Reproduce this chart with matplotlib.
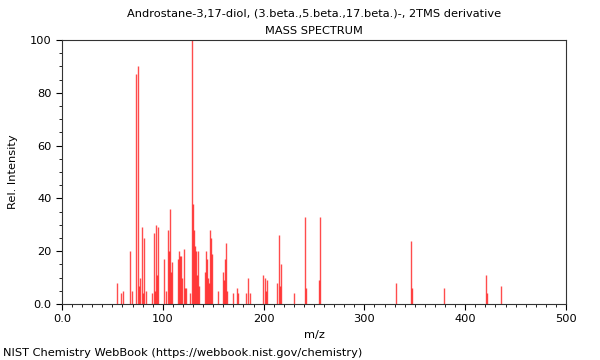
import matplotlib
matplotlib.use("Agg")
import matplotlib.pyplot as plt
from matplotlib.ticker import MultipleLocator, FixedLocator
import numpy as np

# Données du spectre (m/z, intensité relative)
mz = [55, 59, 61, 67, 69, 73, 75, 76, 77, 79, 80, 81, 83, 89, 91, 92, 93, 94, 95,
      101, 103, 105, 106, 107, 108, 109, 115, 116, 117, 118, 119, 121, 122, 123,
      127, 129, 130, 131, 132, 133, 134, 135, 136, 142, 143, 144, 145, 146, 147,
      148, 149, 155, 160, 161, 162, 163, 164, 170, 174, 175, 183, 185, 187,
      199, 201, 202, 203, 213, 215, 216, 217, 230, 241, 242, 255, 256,
      331, 346, 347, 379, 421, 422, 436]
intensity = [8, 4, 5, 20, 5, 87, 90, 7, 10, 29, 4, 25, 5, 4, 27, 5, 30, 11, 29,
             17, 5, 28, 20, 36, 12, 16, 17, 20, 18, 18, 10, 21, 6, 6,
             4, 100, 38, 28, 22, 20, 11, 20, 7, 12, 20, 17, 10, 8, 28,
             25, 19, 5, 12, 9, 17, 23, 5, 4, 6, 4, 4, 10, 4,
             11, 10, 5, 9, 8, 26, 7, 15, 4, 33, 6, 9, 33,
             8, 24, 6, 6, 11, 4, 7]

title = "Androstane-3,17-diol, (3.beta.,5.beta.,17.beta.)-, 2TMS derivative\nMASS SPECTRUM"
y_ticks = [0, 20, 40, 60, 80, 100]
y_labels = ["0.0", "20", "40", "60", "80", "100"]
x_ticks = [0, 100, 200, 300, 400, 500]
x_labels = ["0.0", "100", "200", "300", "400", "500"]

fig = plt.figure(figsize=(6, 3.6), dpi=100)
ax = fig.add_axes([62/600, 56/360, 504/600, 264/360])

# Pics du spectre
ax.vlines(mz, 0, intensity, color="red", linewidth=1.0, alpha=0.7)

ax.set_xlim(0, 500)
ax.set_ylim(0, 100)
ax.xaxis.set_major_locator(FixedLocator(x_ticks))
ax.set_xticklabels(x_labels)
ax.yaxis.set_major_locator(FixedLocator(y_ticks))
ax.set_yticklabels(y_labels)
ax.xaxis.set_minor_locator(MultipleLocator(10))
ax.yaxis.set_minor_locator(MultipleLocator(5))
ax.tick_params(which="major", length=4, width=0.8, labelsize=8.2, direction="out")
ax.tick_params(which="minor", length=2, width=0.6, direction="out")

for s in ax.spines.values():
    s.set_linewidth(0.8)
    s.set_color("#333333")

ax.set_xlabel("m/z", fontsize=8.2)
ax.set_ylabel("Rel. Intensity", fontsize=8.2)
ax.yaxis.set_label_coords(-44/504, 0.5)
ax.set_title(title, fontsize=8.2, linespacing=2.0, pad=4)

fig.text(3/600, 1 - 353/360, "NIST Chemistry WebBook (https://webbook.nist.gov/chemistry)",
         fontsize=8.2, ha="left", va="center")

fig.savefig("out.png", dpi=100)
